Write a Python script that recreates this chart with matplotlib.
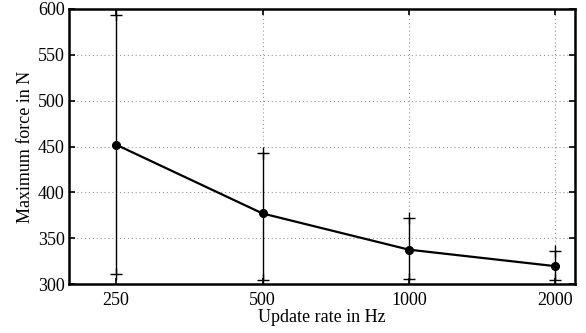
import matplotlib
matplotlib.use("Agg")
import matplotlib.pyplot as plt
from matplotlib.ticker import FixedLocator, NullLocator, FixedFormatter

rates = [250, 500, 1000, 2000]
force_mean = [452, 377, 337.5, 319.5]
force_max = [593, 443, 372, 336]
force_min = [310.5, 304, 305.5, 304]

plt.rcParams['font.family'] = ['Liberation Serif', 'DejaVu Serif']
plt.rcParams['mathtext.fontset'] = 'stix'

fig = plt.figure(figsize=(5.86, 3.33), dpi=100)
ax = fig.add_axes([0.1177, 0.147, 0.8643, 0.826])

for r, lo, hi in zip(rates, force_min, force_max):
    ax.plot([r, r], [lo, hi], color='black', lw=1.0, zorder=3)
ax.plot(rates, force_max, linestyle='none', marker='+', markersize=9,
        markeredgewidth=1.0, color='black', zorder=3)
ax.plot(rates, force_min, linestyle='none', marker='+', markersize=9,
        markeredgewidth=1.0, color='black', zorder=3)
ax.plot(rates, force_mean, color='black', lw=1.6, marker='o', markersize=5.5, zorder=4)

ax.set_xscale('log')
ax.set_xlim(200, 2200)
ax.set_ylim(300, 600)
ax.xaxis.set_major_locator(FixedLocator(rates))
ax.xaxis.set_major_formatter(FixedFormatter([str(r) for r in rates]))
ax.xaxis.set_minor_locator(NullLocator())
ax.set_yticks([300, 350, 400, 450, 500, 550, 600])

ax.grid(True, linestyle=(0, (1, 2.5)), color='#999999', lw=0.8)
ax.tick_params(direction='in', length=4, width=1.2, top=True, right=True,
               labelsize=13, pad=3, colors='black')
ax.tick_params(axis='x', pad=6)
for s in ax.spines.values():
    s.set_linewidth(1.8)

ax.set_xlabel('Update rate in Hz', fontsize=13, labelpad=0)
ax.set_ylabel('Maximum force in N', fontsize=13, labelpad=3)

fig.savefig('out.png', dpi=100)
